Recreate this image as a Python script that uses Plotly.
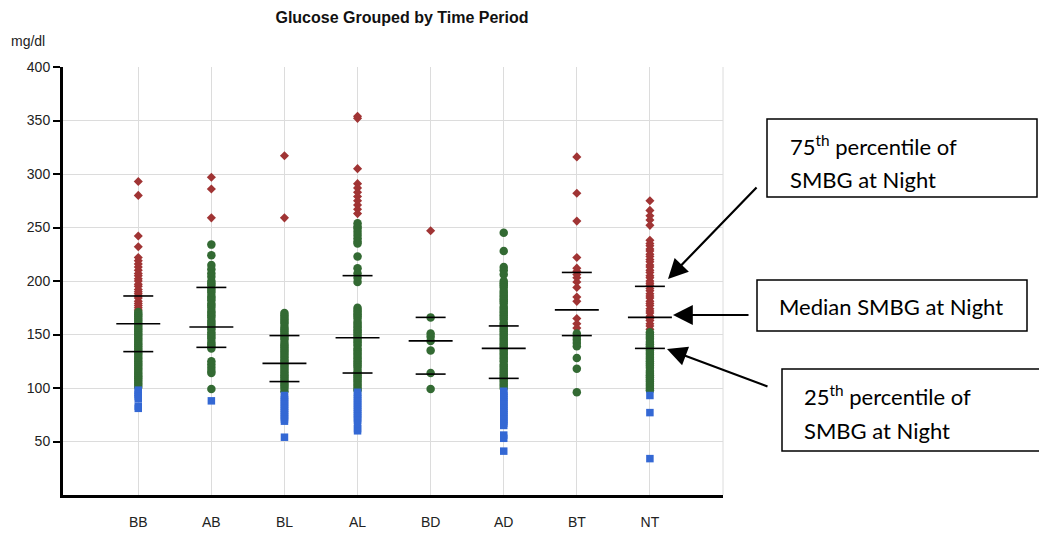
import plotly.graph_objects as go

# ---------------- data ----------------
categories = ["BB", "AB", "BL", "AL", "BD", "AD", "BT", "NT"]

# glucose readings (mg/dl) per time period, split by range colour
bb_high = [293, 280, 242, 232, 222, 219, 216, 213, 210, 207, 205, 202, 200, 197, 195, 192, 190, 188, 186, 184, 181, 179, 177, 175, 173]
bb_target = [171, 169, 167, 165, 163, 161, 159, 157, 155, 153, 151, 149, 147, 145, 143, 141, 139, 137, 135, 133, 131, 129, 127, 125, 123, 121, 119, 117, 115, 113, 111, 109, 107, 105, 103, 101]
bb_low = [98, 96, 94, 92, 90, 83, 81]

ab_high = [297, 286, 259]
ab_target = [234, 224, 215, 211, 207, 204, 200, 198, 196, 193, 191, 189, 186, 184, 182, 179, 177, 175, 172, 170, 168, 166, 163, 161, 159, 157, 155, 152, 150, 148, 146, 143, 141, 139, 137, 125, 122, 119, 116, 114, 99]
ab_low = [88]

bl_high = [317, 259]
bl_target = [170, 168, 166, 164, 162, 160, 157, 155, 153, 151, 149, 147, 145, 142, 140, 138, 136, 134, 132, 130, 128, 126, 124, 122, 120, 118, 116, 114, 112, 110, 108, 106, 104, 102, 100, 97]
bl_low = [93, 91, 89, 87, 85, 83, 81, 79, 77, 75, 73, 71, 69, 54]

al_high = [354, 352, 305, 291, 287, 283, 279, 275, 271, 267, 263]
al_target = [254, 251, 249, 246, 243, 240, 237, 235, 223, 212, 207, 203, 199, 175, 173, 171, 169, 167, 165, 162, 160, 158, 156, 154, 152, 150, 148, 146, 144, 142, 140, 137, 135, 133, 131, 129, 127, 125, 123, 121, 119, 116, 114, 112, 110, 108, 106, 104, 102, 100, 98]
al_low = [96, 94, 92, 90, 88, 86, 84, 82, 80, 78, 76, 74, 72, 70, 67, 62, 60]

bd_high = [247]
bd_target = [166, 151, 148, 144, 135, 114, 99]
bd_low = []

ad_high = []
ad_target = [245, 228, 213, 210, 206, 200, 198, 196, 194, 191, 189, 187, 185, 183, 181, 179, 176, 174, 172, 170, 168, 166, 164, 161, 159, 157, 155, 153, 151, 149, 147, 145, 143, 141, 139, 137, 135, 133, 131, 129, 127, 125, 122, 120, 118, 116, 114, 112, 110, 108, 106, 104, 102, 100]
ad_low = [97, 95, 93, 91, 89, 87, 85, 83, 81, 79, 77, 75, 73, 71, 69, 67, 65, 56, 53, 41]

bt_high = [316, 282, 256, 222, 212, 209, 206, 203, 199, 194, 185, 181, 165, 160, 156]
bt_target = [151, 148, 145, 142, 139, 128, 118, 96]
bt_low = []

nt_high = [275, 266, 261, 257, 252, 238, 235, 233, 230, 228, 225, 223, 220, 218, 215, 213, 210, 208, 205, 203, 200, 198, 196, 193, 191, 188, 186, 184, 181, 179, 177, 174, 172, 170, 167, 165, 163, 160, 158, 155]
nt_target = [152, 150, 148, 146, 143, 141, 139, 137, 135, 133, 131, 129, 127, 125, 123, 121, 119, 116, 114, 112, 110, 108, 106, 104, 102, 100, 98]
nt_low = [93, 77, 34]

q75 = [186, 194, 149, 205, 166, 158, 208, 195]
median = [160, 157, 123, 147, 144, 137, 173, 166]
q25 = [134, 138, 106, 114, 113, 109, 149, 137]

y_ticks = [50, 100, 150, 200, 250, 300, 350, 400]

# ---------------- build ----------------
high_sets = [bb_high, ab_high, bl_high, al_high, bd_high, ad_high, bt_high, nt_high]
target_sets = [bb_target, ab_target, bl_target, al_target, bd_target, ad_target, bt_target, nt_target]
low_sets = [bb_low, ab_low, bl_low, al_low, bd_low, ad_low, bt_low, nt_low]


def flatten(sets):
    xs, ys = [], []
    for i, vals in enumerate(sets):
        xs += [i] * len(vals)
        ys += list(vals)
    return xs, ys


RED = "#a03434"
GREEN = "#336a33"
BLUE = "#3468d4"

fig = go.Figure()
hx, hy = flatten(high_sets)
tx, ty = flatten(target_sets)
lx, ly = flatten(low_sets)
fig.add_trace(go.Scatter(x=hx, y=hy, mode="markers",
                         marker=dict(symbol="diamond", size=7, color=RED, line=dict(width=0))))
fig.add_trace(go.Scatter(x=tx, y=ty, mode="markers",
                         marker=dict(symbol="circle", size=8.5, color=GREEN, line=dict(width=0))))
fig.add_trace(go.Scatter(x=lx, y=ly, mode="markers",
                         marker=dict(symbol="square", size=7.5, color=BLUE, line=dict(width=0))))

xi = list(range(len(categories)))
for vals, sz in ((q75, 21.4), (median, 31.4), (q25, 21.4)):
    fig.add_trace(go.Scatter(x=xi, y=vals, mode="markers",
                             marker=dict(symbol="line-ew", size=sz, color="black",
                                         line=dict(color="black", width=1.6))))

# plot-area pixel geometry for the callout decorations
L, R, T, B = 63, 723, 67, 495


def px(x):
    return (x - L) / (R - L)


def py(y):
    return (B - y) / (B - T)


shapes = []
annotations = []
boxes = [(767, 119, 1037, 197), (757, 280, 1027, 331), (782, 369, 1045, 451)]
for (x0, y0, x1, y1) in boxes:
    shapes.append(dict(type="rect", xref="paper", yref="paper",
                       x0=px(x0), x1=px(x1), y0=py(y1), y1=py(y0),
                       line=dict(color="black", width=1.5), fillcolor="white", layer="above"))

# right border grid line
shapes.append(dict(type="line", xref="paper", yref="paper", x0=1, x1=1, y0=0, y1=1,
                   line=dict(color="#dcdcdc", width=1), layer="below"))

box_font = dict(family="Lato, Open Sans, sans-serif", size=22, color="black")
texts = [
    ("75<sup>th</sup> percentile of", 788, 145),
    ("SMBG at Night", 788, 180),
    ("Median SMBG at Night", 777, 306),
    ("25<sup>th</sup> percentile of", 802, 395),
    ("SMBG at Night", 802, 430),
]
for t, x, y in texts:
    annotations.append(dict(text=t, xref="paper", yref="paper", x=px(x), y=py(y),
                            xanchor="left", yanchor="middle", showarrow=False, font=box_font))

arrows = [((668, 279), (758, 186)), ((673, 315), (750, 315)), ((667, 349), (769, 387))]
for (hx_, hy_), (tx_, ty_) in arrows:
    annotations.append(dict(text="", xref="paper", yref="paper", x=px(hx_), y=py(hy_),
                            ax=tx_ - hx_, ay=ty_ - hy_, showarrow=True,
                            arrowhead=2, arrowsize=1.8, arrowwidth=2.2, arrowcolor="black",
                            standoff=0, startstandoff=0))

annotations.append(dict(text="mg/dl", xref="paper", yref="paper", x=px(9), y=py(41),
                        xanchor="left", yanchor="middle", showarrow=False,
                        font=dict(family="Liberation Sans, Arial", size=14, color="#222")))

fig.update_layout(
    width=1039, height=537,
    margin=dict(l=L, r=1039 - R, t=T, b=537 - B, autoexpand=False),
    paper_bgcolor="white", plot_bgcolor="white",
    showlegend=False,
    title=dict(text="<b>Glucose Grouped by Time Period</b>", x=402 / 1039, xanchor="center",
               y=1 - 17 / 537, yanchor="middle", xref="container", yref="container",
               font=dict(family="Liberation Sans, Arial", size=16, color="#111")),
    shapes=shapes,
    annotations=annotations,
)

fig.update_xaxes(range=[-1.03, 8.0], tickmode="array", automargin=False,
                 tickvals=list(range(len(categories) + 1)), ticktext=categories + [""],
                 showgrid=True, gridcolor="#dcdcdc", gridwidth=1, zeroline=False,
                 showline=True, linecolor="black", linewidth=3, ticks="",
                 ticklabelstandoff=12,
                 tickfont=dict(family="Liberation Sans, Arial", size=14, color="#222"))
fig.update_yaxes(range=[0, 400], tickmode="array", tickvals=y_ticks, automargin=False,
                 showgrid=True, gridcolor="#dcdcdc", gridwidth=1, zeroline=False,
                 showline=True, linecolor="black", linewidth=3,
                 ticks="outside", ticklen=7, tickwidth=1.5, tickcolor="black",
                 tickfont=dict(family="Liberation Sans, Arial", size=14, color="#222"))

fig.write_html("out.html")
